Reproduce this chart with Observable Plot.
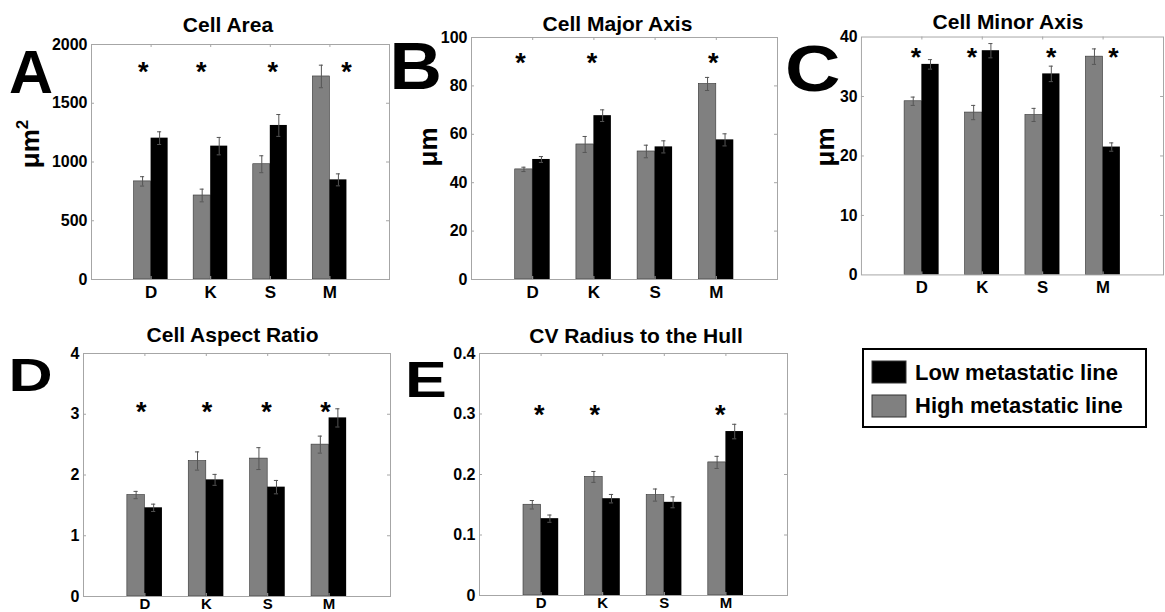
<!DOCTYPE html>
<html>
<head>
<meta charset="utf-8">
<script src="https://cdn.jsdelivr.net/npm/d3@7"></script>
<script src="https://cdn.jsdelivr.net/npm/@observablehq/plot@0.6"></script>
<style>
  html, body { margin: 0; padding: 0; background: #fff; overflow: hidden; }
  body { width: 1165px; height: 612px; position: relative; font-family: "Liberation Sans", Arial, sans-serif; }
  .panel { position: absolute; }
  #overlay { position: absolute; left: 0; top: 0; pointer-events: none; }
</style>
</head>
<body>
<div id="pA" class="panel"></div>
<div id="pB" class="panel"></div>
<div id="pC" class="panel"></div>
<div id="pD" class="panel"></div>
<div id="pE" class="panel"></div>
<svg id="overlay" width="1165" height="612"></svg>
<script>
// ---------- data ----------
const categories = ["D", "K", "S", "M"];

const areaHigh = [835, 715, 981, 1728];
const areaHighErr = [40, 54, 72, 96];
const areaLow = [1203, 1135, 1311, 848];
const areaLowErr = [54, 74, 93, 51];
const areaTicks = [0, 500, 1000, 1500, 2000];
const areaStarX = [0.87, 1.84, 3.04, 4.28];
const areaStarY = 1820;

const majorHigh = [45.5, 55.8, 52.9, 80.8];
const majorHighErr = [0.9, 3.3, 2.6, 2.7];
const majorLow = [49.6, 67.7, 54.8, 57.7];
const majorLowErr = [1.2, 2.4, 2.5, 2.5];
const majorTicks = [0, 20, 40, 60, 80, 100];
const majorStarX = [0.80, 1.97, 3.95];
const majorStarY = 92.4;

const minorHigh = [29.2, 27.3, 26.9, 36.7];
const minorHighErr = [0.7, 1.2, 1.1, 1.3];
const minorLow = [35.4, 37.7, 33.8, 21.5];
const minorLowErr = [0.8, 1.2, 1.3, 0.7];
const minorTicks = [0, 10, 20, 30, 40];
const minorStarX = [0.90, 1.83, 3.14, 4.17];
const minorStarY = 37.7;

const aspectHigh = [1.67, 2.23, 2.27, 2.50];
const aspectHighErr = [0.06, 0.15, 0.18, 0.14];
const aspectLow = [1.46, 1.92, 1.80, 2.94];
const aspectLowErr = [0.06, 0.09, 0.11, 0.15];
const aspectTicks = [0, 1, 2, 3, 4];
const aspectStarX = [0.94, 2.01, 2.98, 3.94];
const aspectStarY = 3.15;

const cvHigh = [0.150, 0.196, 0.166, 0.220];
const cvHighErr = [0.007, 0.009, 0.010, 0.010];
const cvLow = [0.127, 0.160, 0.154, 0.271];
const cvLowErr = [0.006, 0.007, 0.009, 0.012];
const cvTicks = [0, 0.1, 0.2, 0.3, 0.4];
const cvStarX = [0.97, 1.87, 3.91];
const cvStarY = 0.31;

const titles = ["Cell Area", "Cell Major Axis", "Cell Minor Axis", "Cell Aspect Ratio", "CV Radius to the Hull"];
const panelLetters = ["A", "B", "C", "D", "E"];
const yLabelUnits = ["μm", "μm", "μm"];
const yLabelPowers = ["2", "", ""];
const legendLabels = ["Low metastatic line", "High metastatic line"];

// ---------- styles ----------
const FONT = "'Liberation Sans', Arial, Helvetica, sans-serif";
const GRAY = "#808080";
const BLACK = "#000000";
const FRAME = "#a6a6a6";
const ERR = "#555555";

function drawPanel(cfg) {
  const W = 2 / 7;
  const high = categories.map((c, i) => ({c: i + 1, v: cfg.high[i], e: cfg.highErr[i]}));
  const low = categories.map((c, i) => ({c: i + 1, v: cfg.low[i], e: cfg.lowErr[i]}));
  const ymax = cfg.ticks[cfg.ticks.length - 1];
  const plotH = cfg.height - cfg.mt - cfg.mb;
  const plotW = cfg.width - cfg.ml - cfg.mr;
  const tY = 3 / plotH * ymax;
  const tX = 3 / plotW * 5;
  const cap = 0.034;
  const errMarks = (rows, off) => [
    Plot.ruleX(rows, {x: d => d.c + off, y1: d => d.v - d.e, y2: d => d.v + d.e, stroke: ERR, strokeWidth: 1}),
    Plot.ruleY(rows, {y: d => d.v + d.e, x1: d => d.c + off - cap, x2: d => d.c + off + cap, stroke: ERR, strokeWidth: 1}),
    Plot.ruleY(rows, {y: d => d.v - d.e, x1: d => d.c + off - cap, x2: d => d.c + off + cap, stroke: ERR, strokeWidth: 1})
  ];
  const inner = cfg.ticks.slice(1, -1);
  const svg = Plot.plot({
    width: cfg.width,
    height: cfg.height,
    marginLeft: cfg.ml, marginRight: cfg.mr, marginTop: cfg.mt, marginBottom: cfg.mb,
    x: {domain: [0, 5]},
    y: {domain: [0, ymax]},
    style: {fontFamily: FONT, fontWeight: "bold", background: "transparent", color: "#000"},
    marks: [
      Plot.rect(high, {x1: d => d.c - W, x2: d => d.c, y1: () => 0, y2: d => d.v, fill: GRAY, stroke: "#333", strokeWidth: 0.6}),
      Plot.rect(low, {x1: d => d.c, x2: d => d.c + W, y1: () => 0, y2: d => d.v, fill: BLACK}),
      ...errMarks(high, -W / 2),
      ...errMarks(low, W / 2),
      Plot.frame({stroke: FRAME, strokeWidth: 1}),
      Plot.ruleY(inner, {y: d => d, x1: () => 0, x2: () => tX, stroke: FRAME}),
      Plot.ruleY(inner, {y: d => d, x1: () => 5 - tX, x2: () => 5, stroke: FRAME}),
      Plot.ruleX([1, 2, 3, 4], {x: d => d, y1: () => ymax - tY, y2: () => ymax, stroke: FRAME}),
      Plot.ruleX([1, 2, 3, 4], {x: d => d, y1: () => 0, y2: () => tY, stroke: FRAME}),
      Plot.axisY({ticks: cfg.ticks, tickFormat: d => String(d), tickSize: 0, tickPadding: 4, fontSize: 16, fontWeight: "bold", label: null}),
      Plot.axisX({ticks: [1, 2, 3, 4], tickFormat: d => categories[d - 1], tickSize: 0, tickPadding: cfg.xPad, fontSize: cfg.xFont, fontWeight: "bold", label: null}),
      Plot.text(cfg.starX, {x: d => d, y: () => cfg.starY, text: () => "*", fontSize: 27, fontWeight: "bold", dy: 7})
    ]
  });
  const el = document.getElementById(cfg.id);
  el.style.left = cfg.left + "px";
  el.style.top = cfg.top + "px";
  el.appendChild(svg);
}

drawPanel({id: "pA", left: 0, top: 0, width: 390, height: 305, ml: 91, mr: 1, mt: 44, mb: 26, xPad: 6, xFont: 17,
  high: areaHigh, highErr: areaHighErr, low: areaLow, lowErr: areaLowErr, ticks: areaTicks, starX: areaStarX, starY: areaStarY});
drawPanel({id: "pB", left: 390, top: 0, width: 390, height: 305, ml: 81, mr: 3, mt: 37, mb: 26, xPad: 6, xFont: 17,
  high: majorHigh, highErr: majorHighErr, low: majorLow, lowErr: majorLowErr, ticks: majorTicks, starX: majorStarX, starY: majorStarY});
drawPanel({id: "pC", left: 780, top: 0, width: 390, height: 305, ml: 82, mr: 2, mt: 37, mb: 27, xPad: 6, xFont: 17,
  high: minorHigh, highErr: minorHighErr, low: minorLow, lowErr: minorLowErr, ticks: minorTicks, starX: minorStarX, starY: minorStarY});
drawPanel({id: "pD", left: 0, top: 300, width: 392, height: 312, ml: 83, mr: 2, mt: 53, mb: 16, xPad: 2, xFont: 15,
  high: aspectHigh, highErr: aspectHighErr, low: aspectLow, lowErr: aspectLowErr, ticks: aspectTicks, starX: aspectStarX, starY: aspectStarY});
drawPanel({id: "pE", left: 392, top: 300, width: 400, height: 312, ml: 87, mr: 5, mt: 53, mb: 17, xPad: 2, xFont: 15,
  high: cvHigh, highErr: cvHighErr, low: cvLow, lowErr: cvLowErr, ticks: cvTicks, starX: cvStarX, starY: cvStarY});

// ---------- overlay text: titles, letters, y labels, legend ----------
const ov = d3.select("#overlay").style("font-family", FONT).style("font-weight", "bold");
const titlePos = [[228, 31.5], [617.5, 31], [1008, 28.5], [232.5, 341.5], [636, 342.5]];
titles.forEach((t, i) => {
  ov.append("text").attr("x", titlePos[i][0]).attr("y", titlePos[i][1])
    .attr("text-anchor", "middle").attr("font-size", 21).text(t);
});
const letterPos = [[9, 93, 61, 1.0], [389.5, 89.3, 66, 1.1], [785, 91, 64, 1.2], [8.5, 390.5, 47, 1.3], [405, 396.7, 49, 1.28]];
panelLetters.forEach((t, i) => {
  const [x, y, fs, sx] = letterPos[i];
  ov.append("text").attr("transform", `translate(${x},${y}) scale(${sx},1)`)
    .attr("font-size", fs).text(t);
});
const yLabelPos = [[39, 144], [437, 147], [834, 147]];
yLabelUnits.forEach((t, i) => {
  const txt = ov.append("text").attr("transform", `translate(${yLabelPos[i][0]},${yLabelPos[i][1]}) rotate(-90)`)
    .attr("text-anchor", "middle").attr("font-size", 26);
  txt.append("tspan").text(t);
  if (yLabelPowers[i]) txt.append("tspan").attr("font-size", 17).attr("dy", -11).text(yLabelPowers[i]);
});
// legend
ov.append("rect").attr("x", 863).attr("y", 349).attr("width", 283).attr("height", 78)
  .attr("fill", "#fff").attr("stroke", "#000").attr("stroke-width", 2);
const swatchFill = [BLACK, GRAY];
const swatchY = [361, 395];
const textY = [380, 413];
legendLabels.forEach((t, i) => {
  ov.append("rect").attr("x", 872).attr("y", swatchY[i]).attr("width", 34).attr("height", 22)
    .attr("fill", swatchFill[i]).attr("stroke", "#333").attr("stroke-width", 1);
  ov.append("text").attr("x", 915).attr("y", textY[i]).attr("font-size", 22).text(t);
});
</script>
</body>
</html>
